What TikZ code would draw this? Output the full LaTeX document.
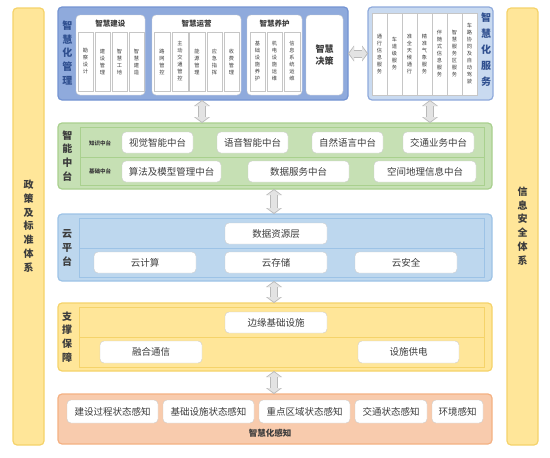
\documentclass[tikz,border=0pt]{standalone}
\usepackage{fontspec}
\setmainfont{Noto Sans CJK SC}
\usetikzlibrary{arrows.meta}

\definecolor{textgray}{HTML}{3C3C3C}
\definecolor{mgmtblue}{HTML}{8FAADC}
\definecolor{mgmtline}{HTML}{7494D2}
\definecolor{servblue}{HTML}{C9DAF0}
\definecolor{labelblue}{HTML}{2F4F8F}
\definecolor{midgreen}{HTML}{C6E0B4}
\definecolor{midline}{HTML}{A9D08E}
\definecolor{cloudblue}{HTML}{BDD7EE}
\definecolor{cloudline}{HTML}{9DC3E6}
\definecolor{supyellow}{HTML}{FFE699}
\definecolor{supline}{HTML}{F5D36A}
\definecolor{senseorange}{HTML}{F8CBAD}
\definecolor{senseline}{HTML}{F4B183}

\newcommand{\blockat}[7]{%kwargs name, style, x0, y0, x1, y1, text
  \node[#2, minimum width={(#5-#3)*1pt}, minimum height={(#6-#4)*1pt}]
  (#1) at ({(#3+#5)/2},{(#4+#6)/2}) {#7};
}

\tikzset{
  panel/.style={rounded corners=4pt, line width=1.2pt, inner sep=0pt, outer sep=0pt},
  group/.style={draw=gray!35, fill=white, rounded corners=4pt, inner sep=0pt},
  column/.style={draw=gray!45, fill=white, line width=0.4pt, inner sep=0pt,
    align=center, text=textgray, font=\fontsize{5.2}{7}\selectfont},
  item/.style={draw=gray!40, fill=white, rounded corners=4pt, inner sep=0pt,
    text=textgray, font=\fontsize{9.5}{11}\selectfont},
  frame/.style={draw=#1, line width=0.6pt, inner sep=0pt},
  vlabel/.style={align=center, inner sep=0pt, text=textgray,
    font=\bfseries\fontsize{10}{13.8}\selectfont},
  grouptitle/.style={inner sep=0pt, text=textgray, font=\bfseries\fontsize{7.5}{9}\selectfont},
  smalltag/.style={inner sep=0pt, text=textgray, font=\bfseries\fontsize{5.5}{7}\selectfont},
  link/.style={draw=gray!55, line width=8pt,
    {Triangle[length=6pt,width=16pt,line width=0pt]}-{Triangle[length=6pt,width=16pt,line width=0pt]},
    postaction={draw=gray!22, line width=6pt, shorten <=1.2pt, shorten >=1.2pt,
    {Triangle[length=4.6pt,width=13pt,line width=0pt]}-{Triangle[length=4.6pt,width=13pt,line width=0pt]}}}
}

\begin{document}
\begin{tikzpicture}[x=1pt, y=-1pt]
    \useasboundingbox (0,0) rectangle (550,458);
    %side columns
    \blockat{policy}{panel, fill=supyellow, draw=supline}{13}{8}{44}{445}{}
    \node[vlabel] (policylabel) at (28.5,226) {政\\策\\及\\标\\准\\体\\系};
    \blockat{security}{panel, fill=supyellow, draw=supline}{507}{8}{538}{445}{}
    \node[vlabel] (securitylabel) at (522.5,226) {信\\息\\安\\全\\体\\系};

    %management panel on top
    \blockat{mgmt}{panel, fill=mgmtblue, draw=mgmtline}{58}{7}{348}{100}{}
    \node[vlabel, text=labelblue] (mgmtlabel) at (67.5,53) {智\\慧\\化\\管\\理};
    \blockat{build}{group}{76}{15}{145}{95}{}
    \node[grouptitle] (buildtitle) at (110.5,24) {智慧建设};
    \blockat{b1}{column}{78}{32}{93}{91}{勘\\察\\设\\计}
    \blockat{b2}{column}{95}{32}{110}{91}{建\\设\\管\\理}
    \blockat{b3}{column}{112}{32}{127}{91}{智\\慧\\工\\地}
    \blockat{b4}{column}{129}{32}{144}{91}{智\\慧\\建\\造}
    \blockat{ops}{group}{152}{15}{241}{95}{}
    \node[grouptitle] (opstitle) at (196.5,24) {智慧运营};
    \blockat{o1}{column}{154}{32}{170}{91}{路\\网\\管\\控}
    \blockat{o2}{column}{172}{32}{188}{91}{主\\动\\交\\通\\管\\控}
    \blockat{o3}{column}{189}{32}{205}{91}{能\\源\\管\\理}
    \blockat{o4}{column}{207}{32}{222}{91}{应\\急\\指\\挥}
    \blockat{o5}{column}{224}{32}{239}{91}{收\\费\\管\\理}
    \blockat{maint}{group}{247}{15}{302}{95}{}
    \node[grouptitle] (mainttitle) at (274.5,24) {智慧养护};
    \blockat{m1}{column}{250}{32}{265}{91}{基\\础\\设\\施\\养\\护}
    \blockat{m2}{column}{267}{32}{282}{91}{机\\电\\设\\施\\运\\维}
    \blockat{m3}{column}{284}{32}{300}{91}{信\\息\\系\\统\\运\\维}
    \blockat{decide}{group, align=center, text=textgray, font=\bfseries\fontsize{9}{12}\selectfont}{306}{15}{343}{95}{智慧\\决策}

    %service panel on the right
    \blockat{serv}{panel, fill=servblue, draw=mgmtblue}{368}{7}{493}{100}{}
    \node[vlabel, text=labelblue, font=\bfseries\fontsize{10}{16}\selectfont] (servlabel) at (486,50) {智\\慧\\化\\服\\务};
    \blockat{s1}{column}{372}{13}{387}{95}{通\\行\\信\\息\\服\\务}
    \blockat{s2}{column}{387}{13}{402}{95}{车\\道\\级\\服\\务}
    \blockat{s3}{column}{402}{13}{417}{95}{准\\全\\天\\候\\通\\行}
    \blockat{s4}{column}{417}{13}{432}{95}{精\\准\\气\\象\\服\\务}
    \blockat{s5}{column}{432}{13}{447}{95}{伴\\随\\式\\信\\息\\服\\务}
    \blockat{s6}{column}{447}{13}{462}{95}{智\\慧\\服\\务\\区\\服\\务}
    \blockat{s7}{column}{462}{13}{477}{95}{车\\路\\协\\同\\及\\自\\动\\驾\\驶}

    %intelligent middle platform
    \blockat{mid}{panel, fill=midgreen, draw=midline}{58}{123}{492}{189}{}
    \node[vlabel] (midlabel) at (67.5,156) {智\\能\\中\\台};
    \blockat{midtop}{frame=midline}{80}{127}{484}{157}{}
    \blockat{midbot}{frame=midline}{80}{157}{484}{185}{}
    \node[smalltag] (knowtag) at (100,143) {知识中台};
    \node[smalltag] (basetag) at (100,171) {基础中台};
    \blockat{vision}{item}{122}{132}{193}{153}{视觉智能中台}
    \blockat{voice}{item}{217}{132}{288}{153}{语音智能中台}
    \blockat{nlp}{item}{312}{132}{383}{153}{自然语言中台}
    \blockat{traffic}{item}{403}{132}{474}{153}{交通业务中台}
    \blockat{algo}{item}{122}{161}{221}{182}{算法及模型管理中台}
    \blockat{datasrv}{item}{248}{161}{349}{182}{数据服务中台}
    \blockat{geo}{item}{374}{161}{476}{182}{空间地理信息中台}

    %cloud platform
    \blockat{cloud}{panel, fill=cloudblue, draw=cloudline}{58}{214}{492}{281}{}
    \node[vlabel] (cloudlabel) at (67,248) {云\\平\\台};
    \blockat{cloudtop}{frame=cloudline}{79}{218}{484}{248}{}
    \blockat{cloudbot}{frame=cloudline}{79}{248}{484}{277}{}
    \blockat{datares}{item}{225}{223}{327}{244}{数据资源层}
    \blockat{compute}{item}{94}{252}{196}{273}{云计算}
    \blockat{storage}{item}{225}{252}{327}{273}{云存储}
    \blockat{cloudsec}{item}{355}{252}{457}{273}{云安全}

    %support layer
    \blockat{support}{panel, fill=supyellow, draw=supline}{58}{303}{492}{371}{}
    \node[vlabel] (supportlabel) at (67,337) {支\\撑\\保\\障};
    \blockat{suptop}{frame=supline}{79}{307}{484}{337}{}
    \blockat{supbot}{frame=supline}{79}{337}{484}{367}{}
    \blockat{edge}{item}{225}{312}{327}{333}{边缘基础设施}
    \blockat{comm}{item}{100}{341}{202}{363}{融合通信}
    \blockat{power}{item}{358}{341}{459}{363}{设施供电}

    %perception layer at the bottom
    \blockat{sense}{panel, fill=senseorange, draw=senseline}{58}{394}{492}{444}{}
    \blockat{p1}{item}{67}{400}{158}{423}{建设过程状态感知}
    \blockat{p2}{item}{163}{400}{254}{423}{基础设施状态感知}
    \blockat{p3}{item}{259}{400}{350}{423}{重点区域状态感知}
    \blockat{p4}{item}{355}{400}{427}{423}{交通状态感知}
    \blockat{p5}{item}{432}{400}{483}{423}{环境感知}
    \node[grouptitle, font=\bfseries\fontsize{8.5}{10}\selectfont] (senselabel) at (270,433) {智慧化感知};

    %links between the layers
    \draw[link] (mgmt.east) -- (serv.west);
    \draw[link] (202,0 |- mgmt.south) -- (202,0 |- mid.north);
    \draw[link] (430,0 |- serv.south) -- (430,0 |- mid.north);
    \draw[link] (274,0 |- mid.south) -- (274,0 |- cloud.north);
    \draw[link] (274,0 |- cloud.south) -- (274,0 |- support.north);
    \draw[link] (274,0 |- support.south) -- (274,0 |- sense.north);
\end{tikzpicture}
\end{document}
